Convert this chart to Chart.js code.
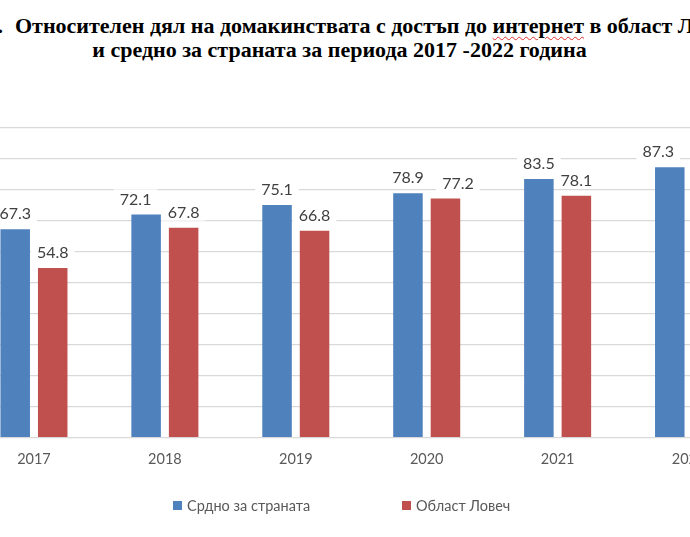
<!DOCTYPE html>
<html><head><meta charset="utf-8">
<script src="https://cdn.jsdelivr.net/npm/chart.js@4.4.0/dist/chart.umd.min.js"></script>
<style>
html,body{margin:0;padding:0;background:#fff;width:690px;height:537px;overflow:hidden;position:relative}
#wrap{position:absolute;left:-60px;top:0;width:814px;height:537px}
.t{position:absolute;font-family:"Liberation Serif","Times New Roman",serif;font-weight:bold;font-size:22px;color:#000;white-space:nowrap;line-height:1}
#t1{left:15px;top:14.5px}
#t1 .num{position:absolute;right:100%;margin-right:12px}
#t2{left:0;width:679px;text-align:center;top:38.5px}
.sp{text-decoration:underline wavy #e03030;text-decoration-thickness:1px;text-underline-offset:3px}
#legend{position:absolute;top:495px;left:0;width:690px;height:20px;font-family:Lato,sans-serif;font-size:14.5px;color:#595959}
.li{position:absolute;top:0;height:20px;display:flex;align-items:center;white-space:nowrap}
.sw{width:9px;height:9px;margin-right:5px;display:inline-block}
</style></head><body>
<div class="t" id="t1"><span class="num">1.</span>Относителен дял на домакинствата с достъп до <span class="sp">интернет</span> в област Ловеч</div>
<div class="t" id="t2">и средно за страната за периода 2017 -2022 година</div>
<div id="wrap"><canvas id="c" width="814" height="537"></canvas></div>
<div id="legend"></div>
<script>
const categories = ['2017', '2018', '2019', '2020', '2021', '2022'];
const seriesNames = ['Срдно за страната', 'Област Ловеч'];
const countryAvg = [67.3, 72.1, 75.1, 78.9, 83.5, 87.3];
const lovech = [54.8, 67.8, 66.8, 77.2, 78.1, null];
const yTicks = [0, 10, 20, 30, 40, 50, 60, 70, 80, 90, 100];

const colors = ['#4F81BD', '#C0504D'];

const valueLabels = {
  id: 'valueLabels',
  afterDatasetsDraw(chart, args, opts) {
    const ctx = chart.ctx;
    ctx.save();
    ctx.font = opts.font;
    ctx.textAlign = 'center';
    ctx.textBaseline = 'middle';
    chart.data.datasets.forEach((ds, di) => {
      const meta = chart.getDatasetMeta(di);
      meta.data.forEach((el, i) => {
        const v = ds.data[i];
        if (v == null) return;
        const txt = v.toFixed(1);
        const x = el.x + ((opts.nudge[di] || [])[i] || 0);
        const y = el.y - opts.gap;
        const w = ctx.measureText(txt).width;
        ctx.fillStyle = '#fff';
        ctx.fillRect(x - w / 2 - opts.pad, y - opts.boxH / 2, w + 2 * opts.pad, opts.boxH);
        ctx.fillStyle = opts.color;
        ctx.fillText(txt, x, y + 1);
      });
    });
    ctx.restore();
  }
};

const chart = new Chart(document.getElementById('c'), {
  type: 'bar',
  data: {
    labels: categories,
    datasets: [
      { label: seriesNames[0], data: countryAvg, backgroundColor: colors[0], categoryPercentage: 0.573, barPercentage: 0.787 },
      { label: seriesNames[1], data: lovech, backgroundColor: colors[1], categoryPercentage: 0.573, barPercentage: 0.787 }
    ]
  },
  options: {
    responsive: false,
    animation: false,
    layout: { padding: { top: 128, bottom: 56, left: 0, right: 0 } },
    plugins: {
      legend: { display: false },
      tooltip: { enabled: false },
      valueLabels: {
        font: '16px Lato, sans-serif', color: '#404040', gap: 16, pad: 6, boxH: 18,
        nudge: [[0, -10.5, 0, 0, 0, -11.5], [0, 0, 0, 12.5, 0, 0]]
      }
    },
    scales: {
      x: {
        grid: { display: false, drawTicks: false },
        border: { display: false },
        ticks: { color: '#595959', font: { family: 'Lato', size: 14.5 }, padding: 13 }
      },
      y: {
        min: 0, max: 100,
        afterBuildTicks: s => { s.ticks = yTicks.map(v => ({ value: v })); },
        afterFit: s => { s.width = 28.5; },
        grid: { color: '#d9d9d9', lineWidth: 1.3, drawTicks: false },
        border: { display: false },
        ticks: { display: false }
      }
    }
  },
  plugins: [valueLabels]
});

// HTML legend built from the chart's datasets
const legendPos = [173, 402];
const lg = document.getElementById('legend');
chart.data.datasets.forEach((ds, i) => {
  const d = document.createElement('div');
  d.className = 'li';
  d.style.left = legendPos[i] + 'px';
  d.innerHTML = '<span class="sw" style="background:' + ds.backgroundColor + '"></span><span>' + ds.label + '</span>';
  lg.appendChild(d);
});
</script>
</body></html>
